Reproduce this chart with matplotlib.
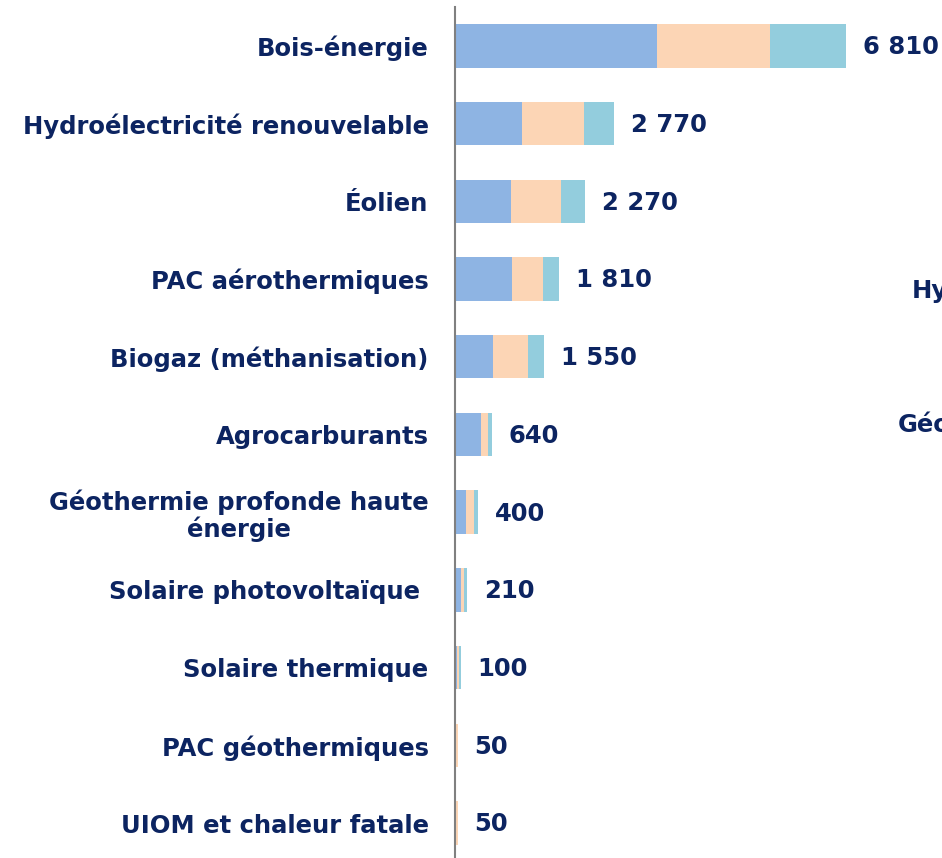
import matplotlib.pyplot as plt

# Données (GWh)
categories = [
    "Bois-énergie",
    "Hydroélectricité renouvelable",
    "Éolien",
    "PAC aérothermiques",
    "Biogaz (méthanisation)",
    "Agrocarburants",
    "Géothermie profonde haute\nénergie",
    "Solaire photovoltaïque ",
    "Solaire thermique",
    "PAC géothermiques",
    "UIOM et chaleur fatale",
]
serie_1 = [3520, 1170, 980, 1000, 670, 450, 190, 100, 30, 10, 10]
serie_2 = [1970, 1070, 860, 540, 610, 130, 135, 50, 35, 35, 35]
serie_3 = [1320, 530, 430, 270, 270, 60, 75, 60, 35, 5, 5]
totaux = [6810, 2770, 2270, 1810, 1550, 640, 400, 210, 100, 50, 50]

bleu = "#8EB4E3"
peche = "#FCD5B5"
turquoise = "#93CDDD"
marine = "#0C2461"

plt.rcParams["font.family"] = ["DejaVu Sans"]

fig = plt.figure(figsize=(9.42, 8.58), dpi=100)
ax = fig.add_axes([455 / 942, 0, 487 / 942, 851 / 858])

y = list(range(len(categories)))
h = 0.56
ax.barh(y, serie_1, height=h, color=bleu)
ax.barh(y, serie_2, height=h, left=serie_1, color=peche)
gauche = [a + b for a, b in zip(serie_1, serie_2)]
ax.barh(y, serie_3, height=h, left=gauche, color=turquoise)

for yi, t in zip(y, totaux):
    txt = f"{t:,}".replace(",", " ")
    ax.annotate(txt, (t, yi), xytext=(12, -1), textcoords="offset points",
                va="center", ha="left", fontsize=17.5, fontweight="bold",
                color=marine)

ax.set_xlim(0, 8484)
ax.set_ylim(10.45, -0.5)
ax.set_yticks(y)
ax.set_yticklabels(categories, fontsize=17.5, fontweight="bold", color=marine,
                   ha="right", multialignment="center", linespacing=1.1)
ax.tick_params(axis="y", length=0, pad=19)
ax.set_xticks([])
for s in ["top", "right", "bottom"]:
    ax.spines[s].set_visible(False)
ax.spines["left"].set_color("#808080")
ax.spines["left"].set_linewidth(1.5)

# étiquettes d'une légende coupée à droite
fig.text(912 / 942, 1 - 290 / 858, "Hydroélectricité", fontsize=17.5,
         fontweight="bold", color=marine, va="center")
fig.text(898 / 942, 1 - 425 / 858, "Géothermie", fontsize=17.5,
         fontweight="bold", color=marine, va="center")

fig.savefig("out.png", dpi=100)
